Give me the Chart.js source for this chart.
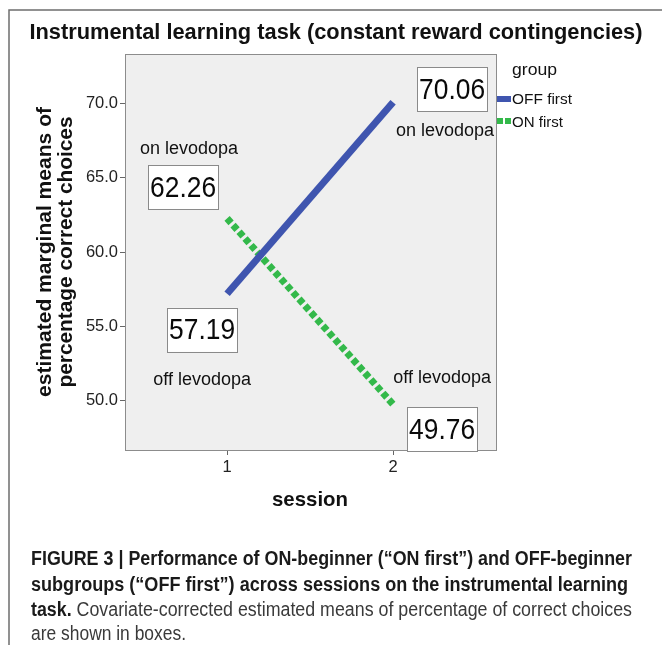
<!DOCTYPE html>
<html>
<head>
<meta charset="utf-8">
<script src="https://cdn.jsdelivr.net/npm/chart.js@4/dist/chart.umd.min.js"></script>
<style>
html,body{margin:0;padding:0;background:#fff;}
#wrap{width:662px;height:645px;position:relative;}
</style>
</head>
<body>
<div id="wrap"><canvas id="c" width="662" height="645"></canvas></div>
<script>
const sessions = [1, 2];
const offFirst = [57.19, 70.06];
const onFirst = [62.26, 49.76];
const yTicks = [50, 55, 60, 65, 70];
const xTicks = [1, 2];
const seriesNames = ['OFF first', 'ON first'];

const BLUE = '#3F55AF';
const GREEN = '#33B94A';
const FONT = '"Liberation Sans", Arial, sans-serif';

function pts(vals){ return sessions.map((s,i)=>({x:s,y:vals[i]})); }

// draw text at font size, optionally horizontally scaled to a target width
function fitText(ctx, txt, font, cx, cy, target, align, color){
  ctx.save();
  ctx.font = font;
  const w = ctx.measureText(txt).width;
  const sx = target ? target / w : 1;
  ctx.translate(cx, cy);
  ctx.scale(sx, 1);
  ctx.textAlign = align || 'center';
  ctx.textBaseline = 'middle';
  ctx.fillStyle = color || '#111';
  ctx.fillText(txt, 0, 0);
  ctx.restore();
}

function box(ctx, cx, cy, txt){
  const w = 70, h = 44;
  ctx.fillStyle = '#fff';
  ctx.fillRect(cx - w/2, cy - h/2, w, h);
  ctx.strokeStyle = '#8a8a8a';
  ctx.lineWidth = 1;
  ctx.strokeRect(Math.round(cx - w/2)+0.5, Math.round(cy - h/2)+0.5, w, h);
  fitText(ctx, txt, '30px ' + FONT, cx, cy + 1, 66, 'center', '#0a0a0a');
}
function label(ctx, cx, cy, txt){
  fitText(ctx, txt, '18px ' + FONT, cx, cy, 0, 'center', '#111');
}

const decor = {
  id: 'decor',
  beforeDraw(chart){
    const {ctx, chartArea:a} = chart;
    ctx.save();
    ctx.fillStyle = '#fff';
    ctx.fillRect(0,0,chart.width,chart.height);
    ctx.fillStyle = '#EFEFEF';
    ctx.fillRect(a.left, a.top, a.right - a.left, a.bottom - a.top);
    ctx.restore();
  },
  afterDatasetsDraw(chart){
    const {ctx, chartArea:a, scales:{x, y}} = chart;
    ctx.save();
    // plot frame
    ctx.strokeStyle = '#8c8c8c';
    ctx.lineWidth = 1;
    ctx.strokeRect(a.left + 0.5, a.top + 0.5, a.right - a.left, a.bottom - a.top);

    // annotations tied to data points
    const p = (s, v) => [x.getPixelForValue(s), y.getPixelForValue(v)];
    let q;
    q = p(sessions[0], onFirst[0]);
    label(ctx, q[0] - 38, q[1] - 69, 'on levodopa');
    box(ctx, q[0] - 44, q[1] - 31, onFirst[0].toFixed(2));
    q = p(sessions[0], offFirst[0]);
    box(ctx, q[0] - 25, q[1] + 36, offFirst[0].toFixed(2));
    label(ctx, q[0] - 25, q[1] + 86, 'off levodopa');
    q = p(sessions[1], offFirst[1]);
    box(ctx, q[0] + 59, q[1] - 13, offFirst[1].toFixed(2));
    label(ctx, q[0] + 52, q[1] + 29, 'on levodopa');
    q = p(sessions[1], onFirst[1]);
    box(ctx, q[0] + 49, q[1] + 25, onFirst[1].toFixed(2));
    label(ctx, q[0] + 49, q[1] - 26, 'off levodopa');

    // legend
    fitText(ctx, 'group', '17px ' + FONT, 512, 70, 45, 'left', '#111');
    ctx.fillStyle = BLUE;
    ctx.fillRect(497, 96, 14, 6);
    ctx.fillStyle = GREEN;
    ctx.fillRect(497, 118, 6, 6);
    ctx.fillRect(505, 118, 6, 6);
    fitText(ctx, seriesNames[0], '15.5px ' + FONT, 512, 100, 60, 'left', '#111');
    fitText(ctx, seriesNames[1], '15.5px ' + FONT, 512, 123, 51, 'left', '#111');

    // titles
    fitText(ctx, 'Instrumental learning task (constant reward contingencies)', 'bold 22px ' + FONT, 336, 33, 613, 'center', '#111');
    fitText(ctx, 'session', 'bold 20.5px ' + FONT, 310, 500, 76, 'center', '#111');
    ctx.save();
    ctx.translate(55, 252);
    ctx.rotate(-Math.PI/2);
    fitText(ctx, 'estimated marginal means of', 'bold 21px ' + FONT, 0, -10, 290, 'center', '#111');
    fitText(ctx, 'percentage correct choices', 'bold 21px ' + FONT, 0, 11, 271, 'center', '#111');
    ctx.restore();

    // outer frame
    ctx.strokeStyle = '#6e6e6e';
    ctx.lineWidth = 1.5;
    ctx.beginPath();
    ctx.moveTo(9, 645);
    ctx.lineTo(9, 10);
    ctx.lineTo(662, 10);
    ctx.stroke();

    // caption
    const CF = '"Liberation Sans Narrow", "Liberation Sans", Arial, sans-serif';
    function fitted(parts, x0, yc, target){
      const size = 20;
      const w = parts.reduce((acc, [t,b]) => { ctx.font = (b?'bold ':'') + size + 'px ' + CF; return acc + ctx.measureText(t).width; }, 0);
      const sx = target / w;
      ctx.save();
      ctx.translate(x0, yc);
      ctx.scale(sx, 1);
      let xx = 0;
      ctx.textAlign = 'left';
      ctx.textBaseline = 'middle';
      for (const [t,b] of parts){
        ctx.font = (b?'bold ':'') + size + 'px ' + CF;
        ctx.fillStyle = b ? '#1a1a1a' : '#3a3a3a';
        ctx.fillText(t, xx, 0);
        xx += ctx.measureText(t).width;
      }
      ctx.restore();
    }
    fitted([['FIGURE 3 | Performance of ON-beginner (\u201cON first\u201d) and OFF-beginner', true]], 31, 559, 601);
    fitted([['subgroups (\u201cOFF first\u201d) across sessions on the instrumental learning', true]], 31, 585, 597);
    fitted([['task.', true], [' Covariate-corrected estimated means of percentage of correct choices', false]], 31, 610, 601);
    fitted([['are shown in boxes.', false]], 31, 634, 155);
    ctx.restore();
  }
};

new Chart(document.getElementById('c'), {
  type: 'line',
  data: {
    datasets: [
      { label: seriesNames[0], data: pts(offFirst), borderColor: BLUE, backgroundColor: BLUE,
        borderWidth: 7, borderCapStyle: 'butt', pointRadius: 0, tension: 0 },
      { label: seriesNames[1], data: pts(onFirst), borderColor: GREEN, backgroundColor: GREEN,
        borderWidth: 7, borderDash: [6, 3], borderCapStyle: 'butt', pointRadius: 0, tension: 0 }
    ]
  },
  options: {
    responsive: false,
    animation: false,
    devicePixelRatio: 1,
    layout: { padding: { left: 0, top: 54, right: 166, bottom: 155 } },
    plugins: { legend: { display: false }, title: { display: false }, tooltip: { enabled: false } },
    scales: {
      x: {
        type: 'linear', min: 0.385, max: 2.62,
        afterFit(s){ s.height = 40; },
        afterBuildTicks(s){ s.ticks = xTicks.map(v => ({value: v})); },
        grid: { display: true, drawOnChartArea: false, drawTicks: true, tickLength: 5, color: '#666' },
        border: { display: false },
        ticks: { color: '#222', font: { size: 16.5, family: FONT }, padding: 3, callback: v => String(v) }
      },
      y: {
        type: 'linear', min: 46.7, max: 73.3,
        afterFit(s){ s.width = 125; },
        afterBuildTicks(s){ s.ticks = yTicks.map(v => ({value: v})); },
        grid: { display: true, drawOnChartArea: false, drawTicks: true, tickLength: 5, color: '#666' },
        border: { display: false },
        ticks: { color: '#222', font: { size: 16.5, family: FONT }, padding: 2, callback: v => Number(v).toFixed(1) }
      }
    }
  },
  plugins: [decor]
});
</script>
</body>
</html>
